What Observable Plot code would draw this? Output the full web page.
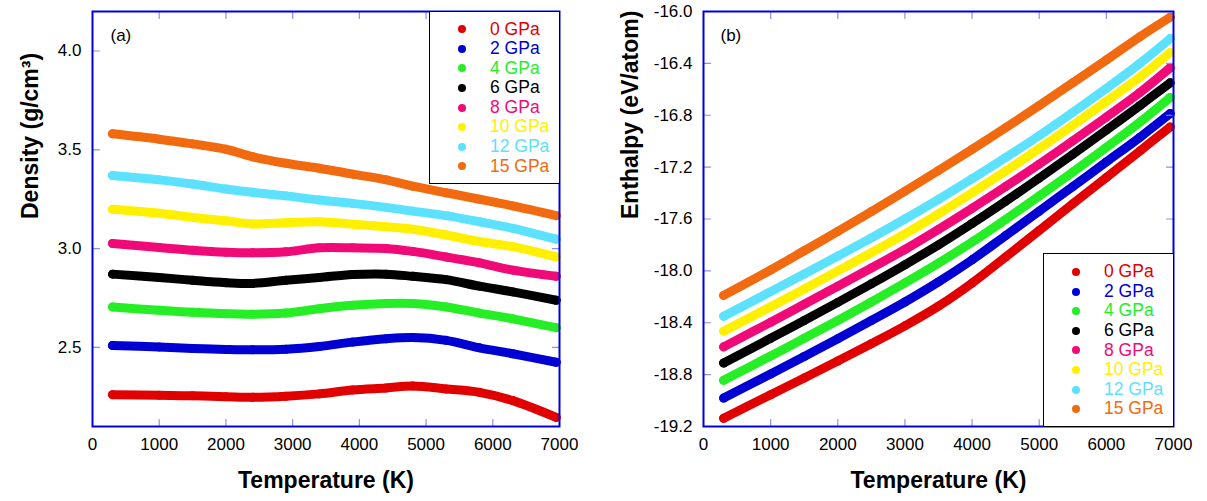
<!DOCTYPE html>
<html>
<head>
<meta charset="utf-8">
<script src="https://cdn.jsdelivr.net/npm/d3@7"></script>
<script src="https://cdn.jsdelivr.net/npm/@observablehq/plot@0.6"></script>
<style>
  body { margin: 0; background: #fff; font-family: "Liberation Sans", Arial, sans-serif; }
  #fig { position: relative; width: 1207px; height: 501px; overflow: hidden; background: #fff; }
  .panel { position: absolute; top: 0; }
  .legend { position: absolute; background: #fff; border: 1.5px solid #000; box-sizing: border-box; }
  .legend .row { position: relative; height: 19.6px; font-size: 17.5px; line-height: 19.6px; white-space: nowrap; }
  .legend .mk { position: absolute; width: 8px; height: 8px; border-radius: 50%; top: 5.8px; }
  .legend .lb { position: absolute; }
</style>
</head>
<body>
<div id="fig"></div>
<script>
// Pressure series, shared by both panels
const seriesNames = ["0 GPa", "2 GPa", "4 GPa", "6 GPa", "8 GPa", "10 GPa", "12 GPa", "15 GPa"];
const seriesColors = ["#e00000", "#0000d2", "#26ee26", "#000000", "#f00a78", "#fff000", "#5ce1ff", "#f26a10"];

// (a) density, g/cm^3
const densityTemps = [300, 1000, 1500, 2000, 2400, 2900, 3400, 3900, 4400, 4800, 5300, 5800, 6300, 6950];
const density0  = [2.261, 2.258, 2.255, 2.251, 2.248, 2.253, 2.265, 2.285, 2.295, 2.305, 2.290, 2.273, 2.231, 2.146];
const density2  = [2.510, 2.502, 2.495, 2.490, 2.488, 2.491, 2.505, 2.527, 2.544, 2.550, 2.536, 2.498, 2.468, 2.425];
const density4  = [2.705, 2.688, 2.678, 2.671, 2.668, 2.674, 2.696, 2.713, 2.722, 2.722, 2.705, 2.674, 2.645, 2.600];
const density6  = [2.871, 2.854, 2.840, 2.828, 2.824, 2.840, 2.854, 2.869, 2.871, 2.860, 2.843, 2.810, 2.781, 2.739];
const density8  = [3.026, 3.006, 2.992, 2.982, 2.979, 2.984, 3.004, 3.004, 3.001, 2.986, 2.958, 2.928, 2.891, 2.860];
const density10 = [3.199, 3.179, 3.158, 3.141, 3.125, 3.131, 3.136, 3.124, 3.111, 3.098, 3.069, 3.036, 3.010, 2.958];
const density12 = [3.370, 3.348, 3.327, 3.302, 3.285, 3.267, 3.246, 3.229, 3.209, 3.190, 3.167, 3.136, 3.103, 3.048];
const density15 = [3.581, 3.554, 3.530, 3.503, 3.465, 3.432, 3.407, 3.377, 3.348, 3.316, 3.283, 3.250, 3.216, 3.167];

// (b) enthalpy, eV/atom
const enthalpyTemps = [300, 1000, 1500, 2000, 2500, 3000, 3500, 4000, 4500, 5000, 5500, 6000, 6500, 6950];
const enthalpy0  = [-19.136, -18.955, -18.826, -18.695, -18.562, -18.424, -18.272, -18.094, -17.893, -17.688, -17.483, -17.280, -17.075, -16.890];
const enthalpy2  = [-18.981, -18.795, -18.660, -18.523, -18.383, -18.240, -18.085, -17.915, -17.728, -17.540, -17.350, -17.160, -16.970, -16.787];
const enthalpy4  = [-18.844, -18.656, -18.520, -18.382, -18.240, -18.093, -17.940, -17.778, -17.603, -17.423, -17.238, -17.048, -16.853, -16.663];
const enthalpy6  = [-18.710, -18.520, -18.383, -18.243, -18.100, -17.953, -17.800, -17.635, -17.463, -17.285, -17.102, -16.915, -16.725, -16.550];
const enthalpy8  = [-18.586, -18.396, -18.258, -18.118, -17.978, -17.835, -17.680, -17.518, -17.350, -17.177, -16.998, -16.814, -16.625, -16.434];
const enthalpy10 = [-18.465, -18.276, -18.140, -18.000, -17.860, -17.715, -17.560, -17.398, -17.230, -17.057, -16.878, -16.694, -16.505, -16.317];
const enthalpy12 = [-18.349, -18.160, -18.024, -17.886, -17.746, -17.600, -17.448, -17.290, -17.126, -16.957, -16.778, -16.593, -16.400, -16.209];
const enthalpy15 = [-18.189, -17.993, -17.845, -17.696, -17.543, -17.386, -17.226, -17.063, -16.896, -16.725, -16.550, -16.374, -16.194, -16.044];

// Tick labels
const tempTicks = [0, 1000, 2000, 3000, 4000, 5000, 6000, 7000];
const densityTicks = [2.5, 3.0, 3.5, 4.0];
const enthalpyTicks = [-19.2, -18.8, -18.4, -18.0, -17.6, -17.2, -16.8, -16.4, -16.0];

function longTable(temps, columns) {
  const rows = [];
  columns.forEach((vals, i) => vals.forEach((v, j) => rows.push({T: temps[j], v, series: seriesNames[i]})));
  return rows;
}

const densityData = longTable(densityTemps, [density0, density2, density4, density6, density8, density10, density12, density15]);
const enthalpyData = longTable(enthalpyTemps, [enthalpy0, enthalpy2, enthalpy4, enthalpy6, enthalpy8, enthalpy10, enthalpy12, enthalpy15]);

const frameBlue = "#0000dc";
const tickBlue = "#8e8ef0";
const tickShape = {draw(context, l) { context.moveTo(0, 0); context.lineTo(0, -l); }};

function inwardTicks(xTicks, yTicks) {
  const inner = xTicks.slice(1, -1);
  const common = {length: 7, shape: tickShape, anchor: "start", stroke: tickBlue, strokeWidth: 1.2};
  return [
    Plot.vector(inner, {x: d => d, frameAnchor: "bottom", rotate: 0, ...common}),
    Plot.vector(inner, {x: d => d, frameAnchor: "top", rotate: 180, ...common}),
    Plot.vector(yTicks, {y: d => d, frameAnchor: "left", rotate: 90, ...common}),
    Plot.vector(yTicks, {y: d => d, frameAnchor: "right", rotate: -90, ...common})
  ];
}

function panel({data, width, marginLeft, marginRight, yDomain, yTicks, yTitle, yTitleDx, tag, tagDx}) {
  return Plot.plot({
    width, height: 501,
    marginTop: 11, marginBottom: 75, marginLeft, marginRight,
    style: {fontFamily: "'Liberation Sans', Arial, sans-serif", fontSize: "17px", background: "transparent", overflow: "visible"},
    x: {domain: [0, 7000]},
    y: {domain: yDomain},
    color: {domain: seriesNames, range: seriesColors},
    marks: [
      Plot.line(data, {x: "T", y: "v", z: "series", stroke: "series", strokeWidth: 9, curve: "catmull-rom", strokeLinecap: "round", strokeLinejoin: "round"}),
      Plot.dot(data, {x: "T", y: "v", fill: "series", r: 4.5}),
      ...inwardTicks(tempTicks, yTicks),
      Plot.frame({stroke: frameBlue, strokeWidth: 2}),
      Plot.axisX({ticks: tempTicks, tickSize: 0, tickPadding: 11, tickFormat: d => String(d), label: null, fontSize: 17}),
      Plot.axisY({ticks: yTicks, tickSize: 0, tickPadding: 11, tickFormat: d => d.toFixed(1), label: null, fontSize: 17}),
      Plot.text(["Temperature (K)"], {frameAnchor: "bottom", dy: 54, fontSize: 23, fontWeight: "bold", lineAnchor: "middle"}),
      Plot.text([yTitle], {frameAnchor: "left", dx: yTitleDx, rotate: -90, fontSize: 23, fontWeight: "bold", lineAnchor: "middle"}),
      Plot.text([tag], {frameAnchor: "top-left", dx: tagDx, dy: 24, textAnchor: "start", lineAnchor: "middle", fontSize: 17})
    ]
  });
}

const fig = document.getElementById("fig");

const chartA = panel({
  data: densityData, width: 600, marginLeft: 92, marginRight: 41,
  yDomain: [2.1, 4.2], yTicks: densityTicks, yTitle: "Density (g/cm³)", yTitleDx: -62, tag: "(a)", tagDx: 18
});
chartA.classList.add("panel");
chartA.style.left = "0px";
fig.appendChild(chartA);

const chartB = panel({
  data: enthalpyData, width: 607, marginLeft: 103, marginRight: 34,
  yDomain: [-19.2, -16.0], yTicks: enthalpyTicks, yTitle: "Enthalpy (eV/atom)", yTitleDx: -73, tag: "(b)", tagDx: 17
});
chartB.classList.add("panel");
chartB.style.left = "600px";
fig.appendChild(chartB);

function legend(left, top, width, height, padTop) {
  const box = document.createElement("div");
  box.className = "legend";
  Object.assign(box.style, {left: left + "px", top: top + "px", width: width + "px", height: height + "px", paddingTop: padTop + "px"});
  seriesNames.forEach((name, i) => {
    const row = document.createElement("div");
    row.className = "row";
    const mk = document.createElement("span");
    mk.className = "mk";
    mk.style.left = "28px";
    mk.style.background = seriesColors[i];
    const lb = document.createElement("span");
    lb.className = "lb";
    lb.style.left = "60px";
    lb.style.color = seriesColors[i];
    lb.textContent = name;
    row.appendChild(mk);
    row.appendChild(lb);
    box.appendChild(row);
  });
  fig.appendChild(box);
}

legend(429, 11, 131, 173, 7.5);
legend(1043, 253, 131, 174, 8.2);
</script>
</body>
</html>
